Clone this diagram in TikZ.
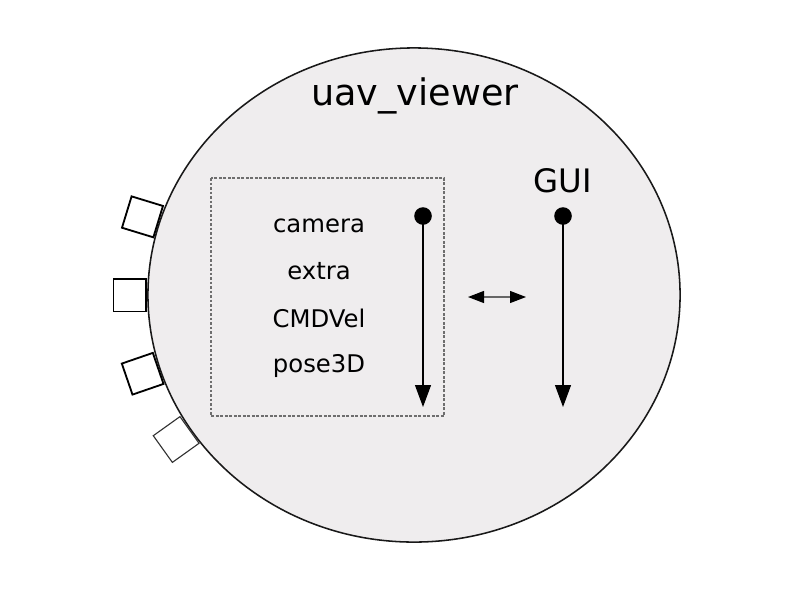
\documentclass[tikz,border=0pt]{standalone}
\usepackage{fontspec}
\setmainfont{DejaVu Sans}
\usepackage{xcolor}
\usetikzlibrary{arrows.meta,shapes.geometric}
\definecolor{viewerbg}{RGB}{239,237,238}
\definecolor{boxline}{RGB}{110,110,110}

\begin{document}
\begin{tikzpicture}[x=0.025cm,y=-0.025cm,
  port/.style={draw=black,fill=white,line width=1.3pt,minimum size=0.82cm,inner sep=0pt,anchor=east},
  lbl/.style={anchor=base,inner sep=0pt,font=\fontsize{17.3}{20}\selectfont},
  dot/.style={circle,fill=black,minimum size=0.44cm,inner sep=0pt},
  flow/.style={line width=0.8pt,-{Triangle[length=0.55cm,width=0.4cm]}}]
  \useasboundingbox (0,0) rectangle (800,600);
  % the component
  \node[ellipse,draw=black!90,line width=1.1pt,fill=viewerbg,
        minimum width=13.3cm,minimum height=12.35cm,inner sep=0pt] (viewer) at (414,295) {};
  \node[anchor=base,inner sep=0pt,font=\fontsize{26}{30}\selectfont] (title) at (415,105) {uav\_viewer};
  % ports on the border
  \node[port,rotate=-17] (port1) at (viewer.164.7) {};
  \node[port] (port2) at (viewer.180) {};
  \node[port,rotate=19] (port3) at (viewer.196.3) {};
  \node[port,rotate=35.6,draw=black!80,line width=0.8pt] (port4) at (viewer.211.6) {};
  % interfaces
  \draw[boxline,line width=1pt,dash pattern=on 2pt off 1.2pt] (211,178) rectangle (444,416);
  \node[lbl] (camera) at (319,232) {camera};
  \node[lbl] (extra) at (319,279) {extra};
  \node[lbl] (cmdvel) at (319,327) {CMDVel};
  \node[lbl] (pose) at (319,372) {pose3D};
  \node[dot] (ifdot) at (423,216) {};
  \coordinate (ifend) at (423,407);
  \draw[flow] (ifdot.center) -- (ifend);
  % gui
  \node[anchor=base,inner sep=0pt,font=\fontsize{23}{27}\selectfont] (gui) at (563,192) {GUI};
  \node[dot] (guidot) at (563,216) {};
  \coordinate (guiend) at (563,407);
  \draw[flow] (guidot.center) -- (guiend);
  % link between both
  \coordinate (linkl) at (468,297);
  \coordinate (linkr) at (526,297);
  \draw[black!60,line width=0.8pt,{Triangle[length=0.4cm,width=0.3cm,black]}-{Triangle[length=0.4cm,width=0.3cm,black]}] (linkl) -- (linkr);
\end{tikzpicture}
\end{document}
